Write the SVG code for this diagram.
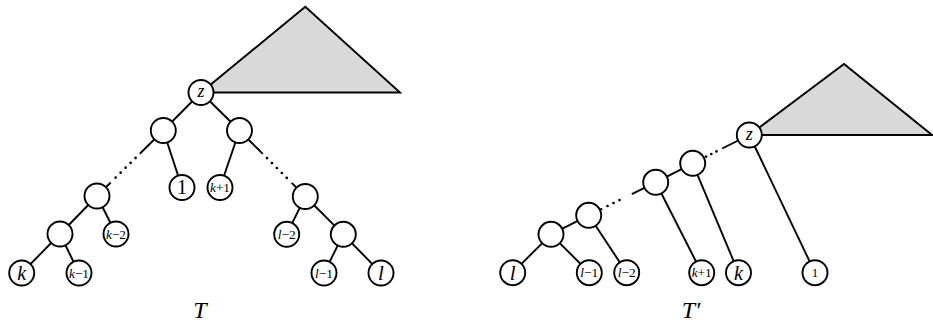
<svg xmlns="http://www.w3.org/2000/svg" width="933" height="322" viewBox="0 0 933 322">
<style>
.e{stroke:#000;stroke-width:1.9;fill:none}
.d{stroke:#000;stroke-width:2.7;stroke-linecap:round;fill:none}
.n{fill:#fff;stroke:#000;stroke-width:1.9}
.tri{fill:#d9d9d9;stroke:#000;stroke-width:1.9;stroke-linejoin:miter}
text{font-family:"Liberation Serif","Times New Roman",serif;text-anchor:middle;fill:#000}
.i{font-style:italic}
.s{font-size:13px}
.b{font-size:20px}
</style>
<rect width="933" height="322" fill="#fff"/>
<g id="subtree-left"><polygon class="tri" points="201,92.5 305.3,6.7 400,92.5"/></g>
<g id="subtree-right"><polygon class="tri" points="749.3,135 844,64 932,135"/></g>
<g id="connectors">
<line class="e" x1="201" y1="92.5" x2="163.3" y2="130.5"/>
<line class="e" x1="201" y1="92.5" x2="239.5" y2="130.5"/>
<line class="e" x1="163.3" y1="130.5" x2="182" y2="187.5"/>
<line class="e" x1="239.5" y1="130.5" x2="220" y2="187.5"/>
<line class="e" x1="163.3" y1="130.5" x2="139.8" y2="153.7"/>
<line class="d" x1="135.6" y1="157.9" x2="115.6" y2="177.6" stroke-dasharray="0 7"/>
<line class="e" x1="110.7" y1="182.5" x2="97" y2="196"/>
<line class="e" x1="97" y1="196" x2="60" y2="234"/>
<line class="e" x1="97" y1="196" x2="116" y2="234"/>
<line class="e" x1="60" y1="234" x2="21.7" y2="273"/>
<line class="e" x1="60" y1="234" x2="79" y2="273"/>
<line class="e" x1="239.5" y1="130.5" x2="262.8" y2="153.9"/>
<line class="d" x1="267" y1="158.1" x2="286.8" y2="178" stroke-dasharray="0 7"/>
<line class="e" x1="291.7" y1="182.9" x2="305.3" y2="196.5"/>
<line class="e" x1="305.3" y1="196.5" x2="286.7" y2="234.3"/>
<line class="e" x1="305.3" y1="196.5" x2="343.3" y2="234.3"/>
<line class="e" x1="343.3" y1="234.3" x2="324" y2="273"/>
<line class="e" x1="343.3" y1="234.3" x2="381" y2="273"/>

<line class="e" x1="551" y1="234.3" x2="512.7" y2="272.7"/>
<line class="e" x1="551" y1="234.3" x2="589.3" y2="272.7"/>
<line class="e" x1="551" y1="234.3" x2="588.7" y2="215.3"/>
<line class="e" x1="588.7" y1="215.3" x2="626.7" y2="272.7"/>
<line class="e" x1="588.7" y1="215.3" x2="602.2" y2="208.7"/>
<line class="d" x1="607.5" y1="206" x2="625.5" y2="197.2" stroke-dasharray="0 6.7"/>
<line class="e" x1="631.8" y1="194.1" x2="655.7" y2="182.3"/>
<line class="e" x1="655.7" y1="182.3" x2="701.7" y2="272.7"/>
<line class="e" x1="655.7" y1="182.3" x2="692.7" y2="163.3"/>
<line class="e" x1="692.7" y1="163.3" x2="738.5" y2="272.7"/>
<line class="d" x1="706.1" y1="156.6" x2="717.7" y2="150.8" stroke-dasharray="0 5.8"/>
<line class="e" x1="722.2" y1="148.5" x2="749.3" y2="135"/>
<line class="e" x1="749.3" y1="135" x2="815" y2="272.7"/>
</g>
<g id="node-z"><circle class="n" cx="201" cy="92.5" r="12.5"/><text class="i" x="201" y="97" font-size="18">z</text></g>
<g id="node-l1"><circle class="n" cx="163.3" cy="130.5" r="12.5"/></g>
<g id="node-r1"><circle class="n" cx="239.5" cy="130.5" r="12.5"/></g>
<g id="leaf-1"><circle class="n" cx="182" cy="187.5" r="12.5"/><text class="b" x="182" y="194.3">1</text></g>
<g id="leaf-kp1"><circle class="n" cx="220" cy="187.5" r="12.5"/><text class="s" x="220" y="192" textLength="20" lengthAdjust="spacingAndGlyphs"><tspan class="i">k</tspan>+1</text></g>
<g id="node-n1"><circle class="n" cx="97" cy="196" r="12.5"/></g>
<g id="node-n2"><circle class="n" cx="60" cy="234" r="12.5"/></g>
<g id="leaf-km2"><circle class="n" cx="116" cy="234" r="12.5"/><text class="s" x="116" y="238.5" textLength="20" lengthAdjust="spacingAndGlyphs"><tspan class="i">k</tspan>−2</text></g>
<g id="leaf-k"><circle class="n" cx="21.7" cy="273" r="12.5"/><text class="i b" x="21.7" y="279.8">k</text></g>
<g id="leaf-km1"><circle class="n" cx="79" cy="273" r="12.5"/><text class="s" x="79" y="277.5" textLength="20" lengthAdjust="spacingAndGlyphs"><tspan class="i">k</tspan>−1</text></g>
<g id="node-m1"><circle class="n" cx="305.3" cy="196.5" r="12.5"/></g>
<g id="leaf-lm2"><circle class="n" cx="286.7" cy="234.3" r="12.5"/><text class="s" x="286.7" y="238.8" textLength="18" lengthAdjust="spacingAndGlyphs"><tspan class="i">l</tspan>−2</text></g>
<g id="node-m2"><circle class="n" cx="343.3" cy="234.3" r="12.5"/></g>
<g id="leaf-lm1"><circle class="n" cx="324" cy="273" r="12.5"/><text class="s" x="324" y="277.5" textLength="18" lengthAdjust="spacingAndGlyphs"><tspan class="i">l</tspan>−1</text></g>
<g id="leaf-l"><circle class="n" cx="381" cy="273" r="12.5"/><text class="i" x="381" y="280.2" font-size="21">l</text></g>
<g id="label-T"><text class="i" x="200" y="318" font-size="24">T</text></g>

<g id="node-zR"><circle class="n" cx="749.3" cy="135" r="12.5"/><text class="i" x="749.3" y="139.5" font-size="18">z</text></g>
<g id="node-A"><circle class="n" cx="551" cy="234.3" r="12.5"/></g>
<g id="node-B"><circle class="n" cx="588.7" cy="215.3" r="12.5"/></g>
<g id="node-C"><circle class="n" cx="655.7" cy="182.3" r="12.5"/></g>
<g id="node-D"><circle class="n" cx="692.7" cy="163.3" r="12.5"/></g>
<g id="leaf-lR"><circle class="n" cx="512.7" cy="272.7" r="12.5"/><text class="i" x="512.7" y="279.9" font-size="21">l</text></g>
<g id="leaf-lm1R"><circle class="n" cx="589.3" cy="272.7" r="12.5"/><text class="s" x="589.3" y="277.2" textLength="18" lengthAdjust="spacingAndGlyphs"><tspan class="i">l</tspan>−1</text></g>
<g id="leaf-lm2R"><circle class="n" cx="626.7" cy="272.7" r="12.5"/><text class="s" x="626.7" y="277.2" textLength="18" lengthAdjust="spacingAndGlyphs"><tspan class="i">l</tspan>−2</text></g>
<g id="leaf-kp1R"><circle class="n" cx="701.7" cy="272.7" r="12.5"/><text class="s" x="701.7" y="277.2" textLength="20" lengthAdjust="spacingAndGlyphs"><tspan class="i">k</tspan>+1</text></g>
<g id="leaf-kR"><circle class="n" cx="738.5" cy="272.7" r="12.5"/><text class="i b" x="738.5" y="279.5">k</text></g>
<g id="leaf-1R"><circle class="n" cx="815" cy="272.7" r="12.5"/><text class="s" x="815" y="277.2">1</text></g>
<g id="label-Tp"><text class="i" x="691" y="318" font-size="24">T′</text></g>
</svg>
